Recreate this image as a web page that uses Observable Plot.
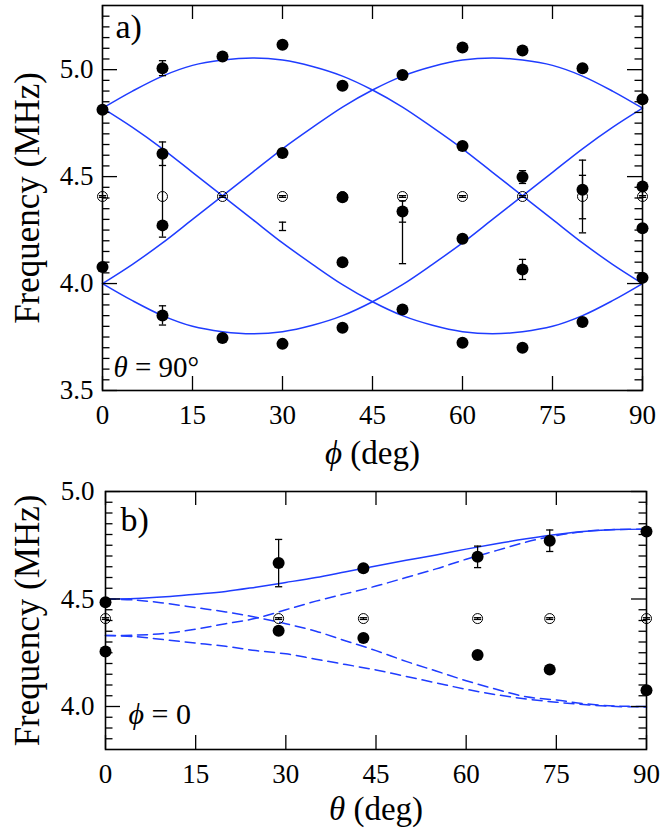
<!DOCTYPE html>
<html><head><meta charset="utf-8">
<script src="https://cdn.jsdelivr.net/npm/d3@7"></script>
<script src="https://cdn.jsdelivr.net/npm/@observablehq/plot@0.6"></script>
<style>
body{margin:0;background:#fff;}
#chart{width:664px;}
#chart svg{display:block;}
</style></head><body><div id="chart"></div>
<script>
// ---------- Panel a) theta = 90°, x = phi ----------
const xTicks = [0, 15, 30, 45, 60, 75, 90];
const yMajorA = [3.5, 4.0, 4.5, 5.0];
const yMajorB = [4.0, 4.5, 5.0];

const filledPhiA  = [0,0, 10,10,10,10, 20,20, 30,30,30, 40,40,40,40, 50,50,50, 60,60,60,60, 70,70,70,70, 80,80,80, 90,90,90,90];
const filledFreqA = [4.813,4.077, 5.007,4.607,4.272,3.851, 5.062,3.746, 5.117,4.61,3.718, 4.925,4.404,4.100,3.793, 4.975,4.337,3.879, 5.104,4.643,4.21,3.723, 5.09,4.498,4.066,3.70, 5.007,4.439,3.82, 4.862,4.454,4.259,4.027];
const filledErrA  = [0,0, 0.035,0.055,0,0.045, 0,0, 0,0,0, 0,0,0,0, 0,0.05,0, 0,0,0,0, 0,0.03,0.047,0, 0,0,0, 0,0,0,0];

const openPhiA  = [0,10,20,30,40,50,60,70,80,90];
const openFreqA = [4.407,4.407,4.407,4.407,4.407,4.407,4.407,4.407,4.407,4.407];
const openErrA  = [0.004,0.19,0.004,0.004,0.004,0.004,0.004,0.004,0.17,0.004];

const barPhiA = [30, 50, 80];
const barLoA  = [4.248, 4.093, 4.303];
const barHiA  = [4.287, 4.337, 4.506];

const curvePhi = [0,5,10,15,20,25,30,35,40,45,50,55,60,65,70,75,80,85,90];
const curveA1 = [4.82,4.90,4.97,5.02,5.045,5.055,5.045,5.015,4.97,4.905,4.825,4.73,4.63,4.52,4.41,4.30,4.19,4.09,4.0];
const curveA2 = [4.0,4.09,4.19,4.30,4.41,4.52,4.63,4.73,4.825,4.905,4.97,5.015,5.045,5.055,5.045,5.02,4.97,4.90,4.82];
const curveA3 = [4.82,4.73,4.63,4.52,4.41,4.30,4.19,4.09,3.995,3.915,3.85,3.805,3.775,3.765,3.775,3.80,3.85,3.92,4.0];
const curveA4 = [4.0,3.92,3.85,3.80,3.775,3.765,3.775,3.805,3.85,3.915,3.995,4.09,4.19,4.30,4.41,4.52,4.63,4.73,4.82];

// ---------- Panel b) phi = 0, x = theta ----------
const filledThetaB = [0,0, 28.8,28.8, 42.9,42.9, 61.9,61.9, 73.9,73.9, 90,90];
const filledFreqB  = [4.485,4.256, 4.667,4.352, 4.643,4.319, 4.696,4.239, 4.771,4.172, 4.814,4.076];
const filledErrB   = [0,0, 0.11,0, 0.012,0, 0.05,0, 0.05,0, 0,0];

const openThetaB = [0, 28.8, 42.9, 61.9, 73.9, 90];
const openFreqB  = [4.409,4.409,4.409,4.409,4.409,4.409];
const openErrB   = [0.004,0.004,0.004,0.004,0.004,0.004];

const curveTheta = [0,5,10,15,20,25,30,35,40,45,50,55,60,65,70,75,80,85,90];
const solidB = [4.50,4.502,4.51,4.522,4.535,4.555,4.577,4.60,4.627,4.654,4.68,4.705,4.732,4.757,4.78,4.80,4.815,4.823,4.825];
const dashB1 = [4.33,4.332,4.34,4.36,4.385,4.41,4.45,4.49,4.525,4.56,4.60,4.64,4.685,4.725,4.765,4.795,4.815,4.823,4.825];
const dashB2 = [4.50,4.495,4.48,4.46,4.44,4.415,4.385,4.35,4.305,4.26,4.21,4.165,4.12,4.08,4.045,4.03,4.012,4.002,4.0];
const dashB3 = [4.33,4.325,4.31,4.295,4.28,4.26,4.245,4.22,4.195,4.17,4.14,4.11,4.08,4.055,4.035,4.02,4.008,4.0,3.998];

const BLUE = "#1f3cff";
const FONT = "Liberation Serif";

const capSymbol = {draw(ctx, size) { const r = Math.sqrt(size / Math.PI); ctx.moveTo(-r, 0); ctx.lineTo(r, 0); }};

function errorTable(xs, ys, errs) {
  const out = [];
  xs.forEach((x, i) => { if (errs[i] > 0) out.push({x, lo: ys[i] - errs[i], hi: ys[i] + errs[i]}); });
  return out;
}

function tickMarks(W, H, yMajor, yMinor) {
  const s = {stroke: "black", strokeWidth: 1.3};
  return [
    Plot.tickX(xTicks, {x: d => d, insetTop: H - 14, ...s}),
    Plot.tickX(xTicks, {x: d => d, insetBottom: H - 14, ...s}),
    Plot.tickY(yMajor, {y: d => d, insetRight: W - 15, ...s}),
    Plot.tickY(yMajor, {y: d => d, insetLeft: W - 15, ...s}),
    Plot.tickY(yMinor, {y: d => d, insetRight: W - 7.5, ...s}),
    Plot.tickY(yMinor, {y: d => d, insetLeft: W - 7.5, ...s})
  ];
}

function errorMarks(bars) {
  const s = {stroke: "black", strokeWidth: 1.3};
  return [
    Plot.ruleX(bars, {x: "x", y1: "lo", y2: "hi", ...s}),
    Plot.dot(bars, {x: "x", y: "lo", symbol: capSymbol, r: 3.6, fill: "none", ...s}),
    Plot.dot(bars, {x: "x", y: "hi", symbol: capSymbol, r: 3.6, fill: "none", ...s})
  ];
}

function fixText(svg) {
  const ns = "http://www.w3.org/2000/svg";
  svg.style.fontFamily = "'Liberation Serif', serif";
  svg.querySelectorAll("text").forEach(t => {
    t.style.fontFamily = "'Liberation Serif', serif";
    const s = t.textContent;
    if (!/[θϕ]/.test(s) || t.querySelector("tspan")) return;
    t.textContent = "";
    s.split(/([θϕ])/).forEach(part => {
      if (!part) return;
      const ts = document.createElementNS(ns, "tspan");
      if (/[θϕ]/.test(part)) ts.setAttribute("font-style", "italic");
      ts.textContent = part;
      t.appendChild(ts);
    });
  });
}

const T = {fontFamily: FONT};

// ----- panel a -----
const barsA = [
  ...errorTable(filledPhiA, filledFreqA, filledErrA),
  ...errorTable(openPhiA, openFreqA, openErrA),
  ...barPhiA.map((x, i) => ({x, lo: barLoA[i], hi: barHiA[i]}))
];
const minorA = d3.range(3.55, 5.26, 0.05).map(v => +v.toFixed(2)).filter(v => Math.abs(v * 2 - Math.round(v * 2)) > 1e-6);

const plotA = Plot.plot({
  width: 664, height: 480,
  marginTop: 5, marginBottom: 90, marginLeft: 102, marginRight: 22,
  x: {domain: [0, 90]},
  y: {domain: [3.5, 5.3]},
  style: {fontSize: "27px", background: "white", color: "black", overflow: "visible"},
  marks: [
    ...[curveA1, curveA2, curveA3, curveA4].map(c =>
      Plot.line(curvePhi, {x: curvePhi, y: c, stroke: BLUE, strokeWidth: 1.5, curve: "catmull-rom"})),
    ...errorMarks(barsA),
    Plot.dot(openPhiA, {x: openPhiA, y: openFreqA, r: 5, stroke: "black", strokeWidth: 1, fill: "none"}),
    Plot.dot(filledPhiA, {x: filledPhiA, y: filledFreqA, r: 6, fill: "black"}),
    ...tickMarks(540, 385, yMajorA, minorA),
    Plot.frame({stroke: "black", strokeWidth: 1.6}),
    Plot.axisX(xTicks, {anchor: "bottom", tickSize: 0, tickPadding: 14, label: null, fontSize: 27, ...T}),
    Plot.axisY(yMajorA, {anchor: "left", tickSize: 0, tickPadding: 9, tickFormat: ".1f", label: null, fontSize: 27, ...T}),
    Plot.text(["ϕ (deg)"], {frameAnchor: "bottom", dy: 73, lineAnchor: "bottom", textAnchor: "middle", fontSize: 33, ...T}),
    Plot.text(["Frequency (MHz)"], {frameAnchor: "left", dx: -64, rotate: -90, lineAnchor: "bottom", textAnchor: "middle", fontSize: 35, ...T}),
    Plot.text(["a)"], {frameAnchor: "top-left", dx: 13, dy: 32, lineAnchor: "bottom", textAnchor: "start", fontSize: 34, ...T}),
    Plot.text(["θ = 90°"], {frameAnchor: "bottom-left", dx: 11, dy: -14, lineAnchor: "bottom", textAnchor: "start", fontSize: 29, ...T})
  ]
});

// ----- panel b -----
const barsB = [
  ...errorTable(filledThetaB, filledFreqB, filledErrB),
  ...errorTable(openThetaB, openFreqB, openErrB)
];
const minorB = d3.range(3.85, 4.96, 0.05).map(v => +v.toFixed(2)).filter(v => Math.abs(v * 2 - Math.round(v * 2)) > 1e-6);

const plotB = Plot.plot({
  width: 664, height: 356,
  marginTop: 11, marginBottom: 87, marginLeft: 105, marginRight: 18,
  x: {domain: [0, 90]},
  y: {domain: [3.8, 5.0]},
  style: {fontSize: "27px", background: "white", color: "black", overflow: "visible"},
  marks: [
    Plot.line(curveTheta, {x: curveTheta, y: solidB, stroke: BLUE, strokeWidth: 1.5, curve: "catmull-rom"}),
    ...[dashB1, dashB2, dashB3].map(c =>
      Plot.line(curveTheta, {x: curveTheta, y: c, stroke: BLUE, strokeWidth: 1.5, strokeDasharray: "10,6", curve: "catmull-rom"})),
    ...errorMarks(barsB),
    Plot.dot(openThetaB, {x: openThetaB, y: openFreqB, r: 5, stroke: "black", strokeWidth: 1, fill: "none"}),
    Plot.dot(filledThetaB, {x: filledThetaB, y: filledFreqB, r: 6, fill: "black"}),
    ...tickMarks(541, 258, yMajorB, minorB),
    Plot.frame({stroke: "black", strokeWidth: 1.6}),
    Plot.axisX(xTicks, {anchor: "bottom", tickSize: 0, tickPadding: 14, label: null, fontSize: 27, ...T}),
    Plot.axisY(yMajorB, {anchor: "left", tickSize: 0, tickPadding: 11, tickFormat: ".1f", label: null, fontSize: 27, ...T}),
    Plot.text(["θ (deg)"], {frameAnchor: "bottom", dy: 70, lineAnchor: "bottom", textAnchor: "middle", fontSize: 33, ...T}),
    Plot.text(["Frequency (MHz)"], {frameAnchor: "left", dx: -67, rotate: -90, lineAnchor: "bottom", textAnchor: "middle", fontSize: 35, ...T}),
    Plot.text(["b)"], {frameAnchor: "top-left", dx: 15, dy: 39, lineAnchor: "bottom", textAnchor: "start", fontSize: 34, ...T}),
    Plot.text(["ϕ = 0"], {frameAnchor: "bottom-left", dx: 23, dy: -26, lineAnchor: "bottom", textAnchor: "start", fontSize: 30, ...T})
  ]
});

fixText(plotA);
fixText(plotB);
const chart = document.getElementById("chart");
chart.appendChild(plotA);
chart.appendChild(plotB);
</script>
</body></html>
